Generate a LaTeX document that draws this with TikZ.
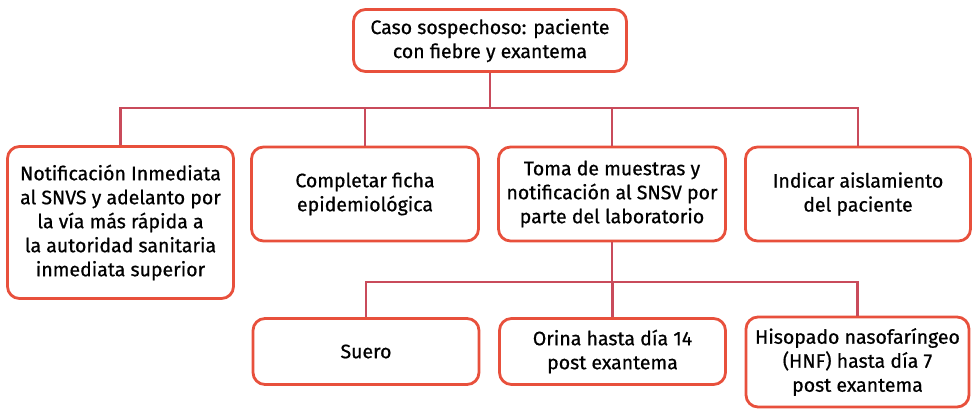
\documentclass[tikz,border=0pt]{standalone}
\usepackage{fontspec}
\setmainfont{Fira Sans}[FakeBold=0.7]
\usetikzlibrary{positioning,calc}
\definecolor{borde}{HTML}{E8503C}
\definecolor{linea}{HTML}{C94B5B}
\tikzset{
  caja/.style={draw=borde,line width=2.8pt,rounded corners=12pt,fill=white,
    align=center,inner sep=2pt,font=\fontsize{19.5}{24}\selectfont},
  conector/.style={draw=linea,line width=2.4pt}
}
\begin{document}
\begin{tikzpicture}[x=1pt,y=-1pt]
\useasboundingbox (0,0) rectangle (978,410);
% nivel 1
\node[caja,minimum width=273pt,minimum height=62pt] (caso) at (490,40.5)
  {Caso sospechoso: paciente\\con fiebre y exantema};
% nivel 2
\node[caja,minimum width=226pt,minimum height=152pt] (notif) at (120.5,222.5)
  {Notificación Inmediata\\al SNVS y adelanto por\\la vía más rápida a\\la autoridad sanitaria\\inmediata superior};
\node[caja,minimum width=227pt,minimum height=94pt] (ficha) at (365,194)
  {Completar ficha\\epidemiológica};
\node[caja,minimum width=227pt,minimum height=94pt] (toma) at (612,194)
  {Toma de muestras y\\notificación al SNSV por\\parte del laboratorio};
\node[caja,minimum width=225pt,minimum height=94pt] (aisla) at (858,194)
  {Indicar aislamiento\\del paciente};
% nivel 3
\node[caja,minimum width=226pt,minimum height=66pt] (suero) at (366,351.5) {Suero};
\node[caja,minimum width=226pt,minimum height=66pt] (orina) at (612.5,351.5)
  {Orina hasta día 14\\post exantema};
\node[caja,minimum width=223pt,minimum height=90pt] (hnf) at (857.5,362)
  {Hisopado nasofaríngeo\\(HNF) hasta día 7\\post exantema};
% conectores
\coordinate (bus1) at (0,108);
\coordinate (bus2) at (0,282);
\foreach \n in {notif,ficha,toma,aisla}
  \draw[conector] (caso.south) -- (caso.south |- bus1) -| (\n.north);
\foreach \n in {suero,orina,hnf}
  \draw[conector] (toma.south) -- (toma.south |- bus2) -| (\n.north);
\end{tikzpicture}
\end{document}
